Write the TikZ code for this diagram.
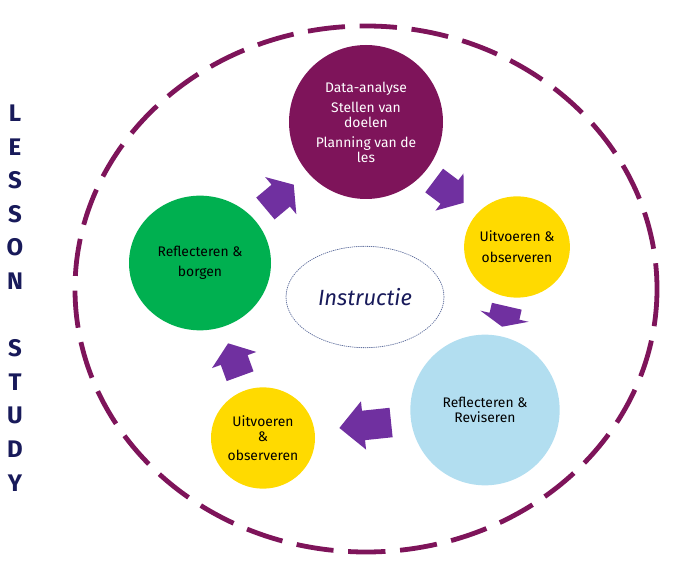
\documentclass[tikz,border=0pt]{standalone}
\usepackage{fontspec}
\setmainfont{Fira Sans}
\usetikzlibrary{shapes.geometric,shapes.arrows}
\definecolor{Pfill}{RGB}{126,20,90}
\definecolor{Gfill}{RGB}{0,176,80}
\definecolor{Yfill}{RGB}{255,218,0}
\definecolor{Bfill}{RGB}{178,222,240}
\definecolor{Afill}{RGB}{112,48,160}
\definecolor{Navy}{RGB}{24,26,90}
\definecolor{Dotline}{RGB}{100,115,160}

\begin{document}
\begin{tikzpicture}[x=0.75pt,y=-0.75pt,line cap=round,line join=round,
  stage/.style={ellipse,inner sep=0pt,align=center,font=\fontsize{10.4}{11.25}\selectfont},
  flow/.style={single arrow,fill=Afill,draw=none,anchor=tip,inner xsep=0pt}]
\path[use as bounding box] (0,0) rectangle (689,566);
% outer cycle
\draw[Pfill,line width=3.6pt,line cap=butt,dash pattern=on 28pt off 11pt] (366,289) ellipse [x radius=291,y radius=263];
% stages
\node[stage,fill=Pfill,text=white,minimum width=115.5pt,minimum height=115.5pt] (plan) at (366,122)
  {Data-analyse\\[3.75pt]Stellen van\\doelen\\[3.75pt]Planning van de\\les};
\node[stage,fill=Yfill,minimum width=79pt,minimum height=76pt] (doenA) at (517,247)
  {Uitvoeren \&\\[4.5pt]observeren};
\node[stage,fill=Bfill,minimum width=112pt,minimum height=113pt] (herzien) at (485,410)
  {Reflecteren \&\\Reviseren};
\node[stage,fill=Yfill,minimum width=78pt,minimum height=76pt] (doenB) at (263,438)
  {Uitvoeren\\\&\\[3pt]observeren};
\node[stage,fill=Gfill,minimum width=106.5pt,minimum height=101pt] (borgen) at (200,263)
  {Reflecteren \&\\[3.75pt]borgen};
\node[stage,draw=Dotline,densely dotted,line width=0.6pt,minimum width=118.5pt,minimum height=76pt,
  text=Navy,font=\itshape\fontsize{16.5}{18}\selectfont] (instr) at (365,297) {Instructie};
% arrows between the stages
\node[flow,rotate=40,minimum height=27.75pt,inner ysep=10.5pt,single arrow head extend=7.5pt,single arrow tip angle=110] (arrPlan) at (294,184.5) {};
\node[flow,rotate=-37,minimum height=27.75pt,inner ysep=10.9pt,single arrow head extend=6.4pt,single arrow tip angle=105] (arrDoenA) at (464,203) {};
\node[flow,rotate=-103,minimum height=15.75pt,inner ysep=11.25pt,single arrow head extend=7.1pt,single arrow tip angle=133] (arrHerzien) at (502,327) {};
\node[flow,rotate=186,minimum height=39pt,inner ysep=10.9pt,single arrow head extend=7.1pt,single arrow tip angle=90] (arrDoenB) at (339,428) {};
\node[flow,rotate=110,minimum height=26.25pt,inner ysep=10.5pt,single arrow head extend=7pt,single arrow tip angle=106] (arrBorgen) at (228,343) {};
% side title
\node[text=Navy,align=center,font=\bfseries\fontsize{18}{25.2}\selectfont] (title) at (15,298)
  {L\\E\\S\\S\\O\\N\\[25.2pt]S\\T\\U\\D\\Y};
\end{tikzpicture}
\end{document}
